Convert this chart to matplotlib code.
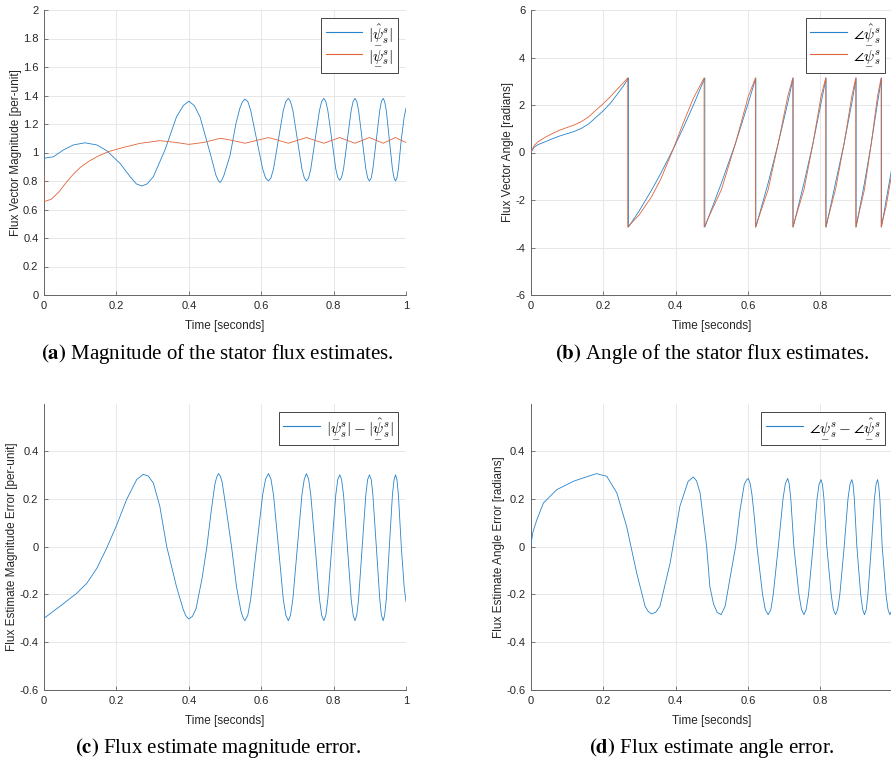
import matplotlib
matplotlib.use('Agg')
import matplotlib.pyplot as plt
from matplotlib.ticker import FormatStrFormatter

# default MATLAB line colours, a touch lighter as in the exported figure
BLUE = '#2683cc'
ORANGE = '#e0643a'

# (a) flux vector magnitudes, estimate (blue) and actual (orange)
t_mag_est = [0, 0, 0.026, 0.053, 0.081, 0.113, 0.146, 0.173, 0.21, 0.238, 0.255, 0.27, 0.285,
             0.302, 0.334, 0.366, 0.385, 0.40, 0.415, 0.431, 0.459, 0.475, 0.481, 0.486, 0.491,
             0.497, 0.514, 0.530, 0.541, 0.548, 0.555,
             0.563, 0.571, 0.5875, 0.604, 0.612, 0.62,
             0.627, 0.634, 0.6475, 0.661, 0.668, 0.675,
             0.681, 0.6875, 0.70, 0.7125, 0.719, 0.725,
             0.731, 0.737, 0.749, 0.761, 0.767, 0.773,
             0.7785, 0.784, 0.795, 0.806, 0.8115, 0.817,
             0.822, 0.8275, 0.838, 0.8485, 0.854, 0.859,
             0.864, 0.869, 0.879, 0.889, 0.894, 0.899,
             0.904, 0.9085, 0.918, 0.9275, 0.932, 0.937,
             0.941, 0.9455, 0.954, 0.9625, 0.967, 0.971,
             0.975, 0.979, 0.987, 0.995, 1.0]
mag_est = [1.16, 0.96, 0.97, 1.017, 1.053, 1.068, 1.053, 1.013, 0.924, 0.83, 0.78, 0.765, 0.78,
           0.83, 1.017, 1.25, 1.33, 1.36, 1.33, 1.25, 0.995, 0.84, 0.805, 0.79, 0.805,
           0.84, 0.98, 1.20, 1.31, 1.355, 1.375,
           1.358, 1.295, 1.09, 0.885, 0.822, 0.80,
           0.822, 0.885, 1.09, 1.295, 1.358, 1.38,
           1.358, 1.295, 1.09, 0.885, 0.822, 0.80,
           0.822, 0.885, 1.09, 1.295, 1.358, 1.38,
           1.358, 1.295, 1.09, 0.885, 0.825, 0.805,
           0.825, 0.885, 1.09, 1.295, 1.358, 1.38,
           1.358, 1.295, 1.09, 0.885, 0.822, 0.80,
           0.822, 0.885, 1.09, 1.295, 1.358, 1.38,
           1.358, 1.295, 1.09, 0.885, 0.822, 0.80,
           0.822, 0.885, 1.09, 1.25, 1.31]
t_mag_act = [0, 0, 0.02, 0.04, 0.06, 0.08, 0.10, 0.125, 0.15, 0.178,
             0.20, 0.22, 0.265, 0.32, 0.36, 0.40, 0.44, 0.488, 0.52, 0.555,
             0.588, 0.62, 0.648, 0.675, 0.70, 0.725, 0.749, 0.773, 0.795, 0.817,
             0.838, 0.859, 0.879, 0.899, 0.918, 0.937, 0.954, 0.971, 0.987, 1.0]
mag_act = [0.84, 0.655, 0.672, 0.72, 0.785, 0.845, 0.895, 0.94, 0.975, 1.006,
           1.022, 1.036, 1.064, 1.083, 1.072, 1.057, 1.07, 1.10, 1.085, 1.065,
           1.085, 1.105, 1.085, 1.065, 1.085, 1.105, 1.085, 1.065, 1.085, 1.105,
           1.085, 1.065, 1.085, 1.105, 1.085, 1.065, 1.085, 1.105, 1.085, 1.07]

# (b) flux vector angles, one list per wrap segment
t_ang_est = [[0, 0.01, 0.02, 0.04, 0.06, 0.08, 0.10, 0.12, 0.14, 0.16, 0.18, 0.20, 0.22,
              0.24, 0.255, 0.268, 0.27],
             [0.27, 0.30, 0.334, 0.36, 0.395, 0.42, 0.449, 0.481],
             [0.481, 0.527, 0.566, 0.601, 0.622],
             [0.622, 0.656, 0.684, 0.710, 0.725],
             [0.725, 0.755, 0.780, 0.802, 0.816],
             [0.816, 0.842, 0.866, 0.887, 0.899],
             [0.899, 0.922, 0.941, 0.958, 0.969],
             [0.969, 0.982, 0.995, 1.0]]
ang_est = [[0, 0.23, 0.33, 0.45, 0.58, 0.695, 0.79, 0.885, 1.015, 1.205, 1.475, 1.75, 2.07,
            2.47, 2.78, 3.08, 3.14],
           [-3.14, -2.45, -1.58, -0.86, 0.19, 0.99, 1.98, 3.14],
           [-3.14, -1.28, 0.40, 2.08, 3.14],
           [-3.14, -1.28, 0.40, 2.08, 3.14],
           [-3.14, -1.28, 0.40, 2.08, 3.14],
           [-3.14, -1.28, 0.40, 2.08, 3.14],
           [-3.14, -1.28, 0.40, 2.08, 3.14],
           [-3.14, -2.0, -0.88, -0.45]]
t_ang_act = [[0, 0.01, 0.02, 0.04, 0.06, 0.08, 0.10, 0.12, 0.14, 0.16, 0.18, 0.20, 0.22,
              0.24, 0.255, 0.268],
             [0.268, 0.30, 0.334, 0.36, 0.395, 0.42, 0.449, 0.479],
             [0.479, 0.527, 0.566, 0.601, 0.621],
             [0.621, 0.656, 0.684, 0.710, 0.724],
             [0.724, 0.755, 0.780, 0.802, 0.815],
             [0.815, 0.842, 0.866, 0.887, 0.898],
             [0.898, 0.922, 0.941, 0.958, 0.968],
             [0.968, 0.982, 0.995, 1.0]]
ang_act = [[0, 0.3, 0.45, 0.64, 0.8, 0.94, 1.05, 1.16, 1.3, 1.5, 1.78, 2.05, 2.35,
            2.68, 2.92, 3.14],
           [-3.14, -2.62, -1.86, -1.10, 0.19, 1.19, 2.27, 3.14],
           [-3.14, -1.56, 0.40, 2.36, 3.14],
           [-3.14, -1.56, 0.40, 2.36, 3.14],
           [-3.14, -1.56, 0.40, 2.36, 3.14],
           [-3.14, -1.56, 0.40, 2.36, 3.14],
           [-3.14, -1.56, 0.40, 2.36, 3.14],
           [-3.14, -2.25, -1.1, -0.7]]

# (c) magnitude error
t_mag_err = [0, 0.044, 0.09, 0.118, 0.146, 0.173, 0.20, 0.228, 0.256, 0.274, 0.288, 0.302,
             0.32, 0.339, 0.366, 0.385, 0.392, 0.40, 0.41, 0.42, 0.437, 0.45, 0.462, 0.472,
             0.477, 0.482, 0.487, 0.492, 0.503, 0.518, 0.532, 0.544, 0.55, 0.555,
             0.563, 0.571, 0.5875, 0.604, 0.612, 0.62,
             0.627, 0.634, 0.6475, 0.661, 0.668, 0.675,
             0.681, 0.6875, 0.70, 0.7125, 0.719, 0.725,
             0.731, 0.737, 0.749, 0.761, 0.767, 0.773,
             0.7785, 0.784, 0.795, 0.806, 0.8115, 0.817,
             0.822, 0.8275, 0.838, 0.8485, 0.854, 0.859,
             0.864, 0.869, 0.879, 0.889, 0.894, 0.899,
             0.904, 0.9085, 0.918, 0.9275, 0.932, 0.937,
             0.941, 0.9455, 0.954, 0.9625, 0.967, 0.971,
             0.975, 0.979, 0.987, 0.995, 1.0]
mag_err = [-0.30, -0.25, -0.196, -0.154, -0.091, -0.007, 0.087, 0.196, 0.28, 0.302, 0.295, 0.266,
           0.168, 0.0, -0.168, -0.265, -0.29, -0.303, -0.292, -0.26, -0.13, 0.0, 0.15, 0.26,
           0.29, 0.305, 0.295, 0.27, 0.16, 0.0, -0.17, -0.27, -0.298, -0.31,
           -0.287, -0.22, 0.0, 0.216, 0.282, 0.305,
           0.282, 0.216, 0.0, -0.22, -0.287, -0.31,
           -0.287, -0.22, 0.0, 0.216, 0.282, 0.305,
           0.282, 0.216, 0.0, -0.22, -0.287, -0.31,
           -0.287, -0.22, 0.0, 0.216, 0.28, 0.30,
           0.28, 0.216, 0.0, -0.22, -0.287, -0.31,
           -0.287, -0.22, 0.0, 0.216, 0.28, 0.30,
           0.28, 0.216, 0.0, -0.22, -0.287, -0.31,
           -0.287, -0.22, 0.0, 0.216, 0.28, 0.30,
           0.28, 0.216, 0.0, -0.17, -0.23]

# (d) angle error
t_ang_err = [0, 0.006, 0.017, 0.035, 0.072, 0.118, 0.145, 0.182, 0.21, 0.238, 0.265, 0.293,
             0.316, 0.325, 0.334, 0.345, 0.357, 0.385, 0.412, 0.435, 0.449, 0.458, 0.468, 0.486,
             0.495, 0.505, 0.515, 0.526, 0.537, 0.552, 0.566, 0.578, 0.59, 0.596, 0.601, 0.606,
             0.611, 0.618, 0.625,
             0.6405, 0.648, 0.656, 0.6635, 0.670, 0.684, 0.697, 0.7035, 0.710, 0.714, 0.7185, 0.727,
             0.741, 0.748, 0.755, 0.761, 0.7675, 0.780, 0.791, 0.7965, 0.802, 0.806, 0.810, 0.818,
             0.830, 0.836, 0.842, 0.848, 0.854, 0.866, 0.8765, 0.882, 0.887, 0.8905, 0.894, 0.901,
             0.9115, 0.917, 0.922, 0.927, 0.9315, 0.941, 0.9495, 0.954, 0.958, 0.961, 0.9645, 0.971,
             0.9815, 0.987, 0.992, 1.0]
ang_err = [0, 0.06, 0.112, 0.182, 0.238, 0.273, 0.287, 0.305, 0.294, 0.224, 0.084, -0.112,
           -0.25, -0.272, -0.282, -0.275, -0.25, -0.07, 0.168, 0.273, 0.291, 0.275, 0.224, 0.0,
           -0.168, -0.24, -0.275, -0.285, -0.25, -0.12, 0.0, 0.15, 0.26, 0.278, 0.285, 0.265,
           0.22, 0.12, 0.0,
           -0.2, -0.263, -0.285, -0.263, -0.2, 0.0, 0.2, 0.263, 0.285, 0.263, 0.2, 0.0,
           -0.2, -0.263, -0.285, -0.263, -0.2, 0.0, 0.2, 0.26, 0.28, 0.26, 0.2, 0.0,
           -0.2, -0.263, -0.285, -0.263, -0.2, 0.0, 0.2, 0.26, 0.28, 0.26, 0.2, 0.0,
           -0.2, -0.263, -0.285, -0.263, -0.2, 0.0, 0.2, 0.26, 0.28, 0.26, 0.2, 0.0,
           -0.2, -0.263, -0.285, -0.26]

t_ticks = [0, 0.2, 0.4, 0.6, 0.8, 1.0]

plt.rcParams['font.family'] = ['Liberation Sans', 'DejaVu Sans']
plt.rcParams['mathtext.fontset'] = 'cm'
plt.rcParams['axes.unicode_minus'] = False

PSI_HAT = r'\underset{-}{\hat{\psi}}_s^s'
PSI = r'\underset{-}{\psi}_s^s'
LW = 0.6


def join(segs):
    out = []
    for s in segs:
        out += s
    return out


def style(ax, ylim, yticks, ylabel, last_xlabel=True):
    ax.set_xlim(0, 1)
    ax.set_ylim(*ylim)
    ax.set_xticks(t_ticks)
    ax.set_yticks(yticks)
    ax.xaxis.set_major_formatter(FormatStrFormatter('%g'))
    ax.yaxis.set_major_formatter(FormatStrFormatter('%g'))
    if not last_xlabel:
        # right-hand panels are cut by the page edge before the "1" label
        ax.set_xticklabels(['%g' % t for t in t_ticks[:-1]] + [''])
    ax.grid(True, color='#e3e3e3', lw=0.6)
    ax.set_axisbelow(True)
    for s in ['top', 'right']:
        ax.spines[s].set_visible(False)
    for s in ['left', 'bottom']:
        ax.spines[s].set_color('#666666')
        ax.spines[s].set_linewidth(0.7)
    ax.tick_params(direction='in', length=3, width=0.6, color='#666666',
                   labelcolor='#262626', labelsize=8, pad=4)
    ax.set_xlabel('Time [seconds]', fontsize=8.5, color='#262626', labelpad=6.5)
    ax.set_ylabel(ylabel, fontsize=8.5, color='#262626', labelpad=1)


def legend(ax):
    leg = ax.legend(loc='upper right', fontsize=11, fancybox=False, framealpha=1,
                    edgecolor='#262626', borderpad=0.3, handlelength=2.4,
                    borderaxespad=0.5, labelspacing=0.2, handletextpad=0.4)
    leg.get_frame().set_linewidth(0.6)
    for ln in leg.get_lines():
        ln.set_linewidth(0.8)


fig = plt.figure(figsize=(8.91, 7.67), dpi=100)
W, H = 891.0, 767.0
ax_a = fig.add_axes([44 / W, 1 - 295 / H, 362 / W, 285 / H])
ax_b = fig.add_axes([530.7 / W, 1 - 295 / H, 362 / W, 285 / H])
ax_c = fig.add_axes([44 / W, 1 - 690 / H, 362 / W, 285.7 / H])
ax_d = fig.add_axes([530.7 / W, 1 - 690 / H, 362 / W, 285.7 / H])

ax_a.plot(t_mag_est, mag_est, color=BLUE, lw=LW, zorder=3, label='$|' + PSI_HAT + '|$')
ax_a.plot(t_mag_act, mag_act, color=ORANGE, lw=LW, zorder=3, label='$|' + PSI + '|$')
style(ax_a, (0, 2), [0, 0.2, 0.4, 0.6, 0.8, 1, 1.2, 1.4, 1.6, 1.8, 2],
      'Flux Vector Magnitude [per-unit]')
legend(ax_a)

ax_b.plot(join(t_ang_est), join(ang_est), color=BLUE, lw=LW, zorder=3,
          label=r'$\angle' + PSI_HAT + '$')
ax_b.plot(join(t_ang_act), join(ang_act), color=ORANGE, lw=LW, zorder=3,
          label=r'$\angle' + PSI + '$')
style(ax_b, (-6, 6), [-6, -4, -2, 0, 2, 4, 6], 'Flux Vector Angle [radians]', False)
legend(ax_b)

ax_c.plot(t_mag_err, mag_err, color=BLUE, lw=LW, zorder=3,
          label='$|' + PSI + '| - |' + PSI_HAT + '|$')
style(ax_c, (-0.6, 0.595), [-0.6, -0.4, -0.2, 0, 0.2, 0.4],
      'Flux Estimate Magnitude Error [per-unit]')
legend(ax_c)

ax_d.plot(t_ang_err, ang_err, color=BLUE, lw=LW, zorder=3,
          label=r'$\angle' + PSI + r' - \angle' + PSI_HAT + '$')
style(ax_d, (-0.6, 0.595), [-0.6, -0.4, -0.2, 0, 0.2, 0.4],
      'Flux Estimate Angle Error [radians]', False)
legend(ax_d)

captions = [(217.5, 354, '(a)', 'Magnitude of the stator flux estimates.'),
            (712, 354, '(b)', 'Angle of the stator flux estimates.'),
            (218.5, 748, '(c)', 'Flux estimate magnitude error.'),
            (712, 748, '(d)', 'Flux estimate angle error.')]
for x, y, tag, txt in captions:
    fig.text(x / W, 1 - y / H, r'$\mathbf{' + tag + '}$ ' + txt, ha='center', va='center',
             fontsize=15, family='Liberation Serif', math_fontfamily='stix')

fig.savefig('out.png', dpi=100)
